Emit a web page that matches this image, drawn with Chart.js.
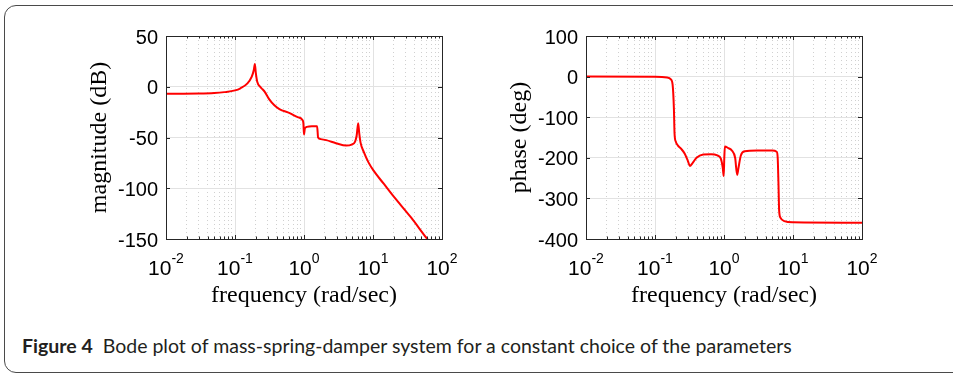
<!DOCTYPE html>
<html>
<head>
<meta charset="utf-8">
<script src="https://cdn.jsdelivr.net/npm/chart.js@4.4.1/dist/chart.umd.min.js"></script>
<style>
  html, body { margin: 0; padding: 0; background: #fff; overflow: hidden; }
  body { width: 953px; height: 374px; position: relative; }
  #frame {
    position: absolute; left: 4px; top: 5px; width: 1000px; height: 366px;
    border: 1px solid #4a4a4a; border-radius: 12px;
  }
  .plot { position: absolute; top: 0; width: 472px; height: 320px; }
  #caption {
    position: absolute; left: 22px; top: 336px; white-space: nowrap;
    font-family: Lato, "Open Sans", sans-serif; font-size: 19.5px; line-height: 19.5px; color: #231f20;
  }
  #caption b { font-weight: 700; margin-right: 10px; }
</style>
</head>
<body>
<div id="frame"></div>
<div class="plot" style="left:0px"><canvas id="magChart"></canvas></div>
<div class="plot" style="left:420px"><canvas id="phaseChart"></canvas></div>
<div id="caption"><b>Figure 4</b>Bode plot of mass-spring-damper system for a constant choice of the parameters</div>
<script>
// axis ticks
const xTickExp = [-2, -1, 0, 1, 2];
const magTicks = [-150, -100, -50, 0, 50];
const phaseTicks = [-400, -300, -200, -100, 0, 100];

// magnitude response (rad/sec, dB)
const magFreq = [0.01, 0.03, 0.05, 0.07, 0.1, 0.12, 0.15, 0.175, 0.188, 0.194, 0.2, 0.21, 0.235, 0.25, 0.27,
  0.314, 0.372, 0.44, 0.62, 0.81, 0.95, 0.98, 1.0, 1.03, 1.1, 1.3, 1.55, 1.6, 1.75, 2.1, 2.9, 4.1, 4.9,
  5.5, 5.8, 6.1, 6.3, 6.6, 7.4, 8.6, 10.2, 14.4, 20.3, 35.8, 59.5, 100];
const magDb = [-6.9, -6.7, -6.2, -5.3, -3.6, -1.5, 3, 10, 17, 22.5, 14, 5, -0.5, -2.5, -5,
  -12.4, -18.3, -22, -26, -30, -32.7, -36, -47, -41, -39.5, -39, -39, -50, -51.6, -52.6, -55.6, -58, -57,
  -54, -48, -36, -45, -55, -64.7, -74.5, -82.7, -95.8, -108.8, -129, -149, -168];

// phase response (rad/sec, deg)
const phaseFreq = [0.01, 0.1, 0.15, 0.17, 0.18, 0.188, 0.192, 0.2, 0.215, 0.24, 0.27, 0.3, 0.32, 0.35, 0.4,
  0.5, 0.65, 0.8, 0.9, 0.96, 0.99, 1.01, 1.03, 1.15, 1.3, 1.45, 1.55, 1.62, 1.75, 2.0, 3, 5, 5.8, 6.0,
  6.15, 6.3, 6.6, 7.5, 10, 100];
const phaseDeg = [0, -0.5, -2, -7, -20, -80, -140, -160, -170, -178, -190, -208, -220, -213, -200,
  -192, -191, -194, -202, -225, -245, -200, -172, -176, -182, -200, -242, -225, -195, -184, -182, -182, -185, -200,
  -260, -330, -348, -356, -359, -360];

const isDecade = v => Math.abs(Math.log10(v) - Math.round(Math.log10(v))) < 1e-6;

// every 1..9 x 10^n between the first and last decade
const xGridValues = [];
xTickExp.forEach((e, i) => {
  if (i === xTickExp.length - 1) { xGridValues.push(Math.pow(10, e)); return; }
  for (let k = 1; k < 10; k++) xGridValues.push(k * Math.pow(10, e));
});

const tickFont = '"Liberation Sans", Arial, sans-serif';
const titleFont = '"Liberation Serif", "Times New Roman", serif';

// box round the axes, inward tick marks, and 10^n labels
const framePlugin = {
  id: 'frame',
  afterDraw(chart) {
    const { ctx, chartArea: a, scales: { x, y } } = chart;
    ctx.save();
    ctx.strokeStyle = '#262626';
    ctx.lineWidth = 1;
    ctx.beginPath();
    x.ticks.forEach(t => {
      const px = Math.round(x.getPixelForValue(t.value)) + 0.5;
      const len = isDecade(t.value) ? 4 : 2.5;
      ctx.moveTo(px, a.bottom); ctx.lineTo(px, a.bottom - len);
      ctx.moveTo(px, a.top); ctx.lineTo(px, a.top + len);
    });
    y.ticks.forEach(t => {
      const py = Math.round(y.getPixelForValue(t.value)) + 0.5;
      ctx.moveTo(a.left, py); ctx.lineTo(a.left + 4, py);
      ctx.moveTo(a.right, py); ctx.lineTo(a.right - 4, py);
    });
    ctx.stroke();
    ctx.strokeRect(Math.round(a.left) + 0.5, Math.round(a.top) + 0.5, Math.round(a.width), Math.round(a.height));

    ctx.fillStyle = '#000';
    ctx.textAlign = 'left';
    ctx.textBaseline = 'alphabetic';
    xTickExp.forEach(e => {
      const px = x.getPixelForValue(Math.pow(10, e));
      const sup = String(e);
      ctx.font = '21px ' + tickFont;
      const w1 = ctx.measureText('10').width;
      ctx.font = '14px ' + tickFont;
      const w2 = ctx.measureText(sup).width;
      const left = px - (w1 + w2) / 2;
      ctx.font = '21px ' + tickFont;
      ctx.fillText('10', left, a.bottom + 36);
      ctx.font = '14px ' + tickFont;
      ctx.fillText(sup, left + w1, a.bottom + 24);
    });
    ctx.restore();
  }
};

function makeBode(id, freq, vals, yTicks, yTitle) {
  new Chart(document.getElementById(id).getContext('2d'), {
    type: 'line',
    data: {
      datasets: [{
        data: freq.map((f, i) => ({ x: f, y: vals[i] })),
        borderColor: '#ff0000',
        borderWidth: 2,
        pointRadius: 0,
        cubicInterpolationMode: 'monotone',
        fill: false
      }]
    },
    options: {
      responsive: true,
      maintainAspectRatio: false,
      animation: false,
      layout: { padding: { left: 85, right: 30, top: 36, bottom: 0 } },
      plugins: { legend: { display: false }, tooltip: { enabled: false } },
      scales: {
        x: {
          type: 'logarithmic',
          min: Math.pow(10, xTickExp[0]),
          max: Math.pow(10, xTickExp[xTickExp.length - 1]),
          afterBuildTicks: axis => { axis.ticks = xGridValues.map(v => ({ value: v })); },
          afterFit: s => { s.height = 81; },
          ticks: { display: false },
          // border.dash sets the dash of the grid lines in v4
          border: {
            display: false,
            dash: c => (c.tick && !isDecade(c.tick.value)) ? [1, 3] : []
          },
          grid: {
            drawTicks: false,
            lineWidth: 1,
            color: c => isDecade(c.tick.value) ? '#e2e2e2' : '#d0d0d0'
          },
          title: {
            display: true,
            text: 'frequency (rad/sec)',
            color: '#000',
            font: { family: titleFont, size: 24 },
            padding: { top: 0, bottom: 10 }
          }
        },
        y: {
          min: yTicks[0],
          max: yTicks[yTicks.length - 1],
          afterBuildTicks: axis => { axis.ticks = yTicks.map(v => ({ value: v })); },
          afterFit: s => { s.width = 81; },
          border: { display: false },
          grid: { drawTicks: false, color: '#e2e2e2', lineWidth: 1 },
          ticks: {
            color: '#000',
            padding: 8,
            labelOffset: 2,
            font: { family: tickFont, size: 20 }
          },
          title: {
            display: true,
            text: yTitle,
            color: '#000',
            font: { family: titleFont, size: 24 },
            padding: 0
          }
        }
      }
    },
    plugins: [framePlugin]
  });
}

makeBode('magChart', magFreq, magDb, magTicks, 'magnitude (dB)');
makeBode('phaseChart', phaseFreq, phaseDeg, phaseTicks, 'phase (deg)');
</script>
</body>
</html>
